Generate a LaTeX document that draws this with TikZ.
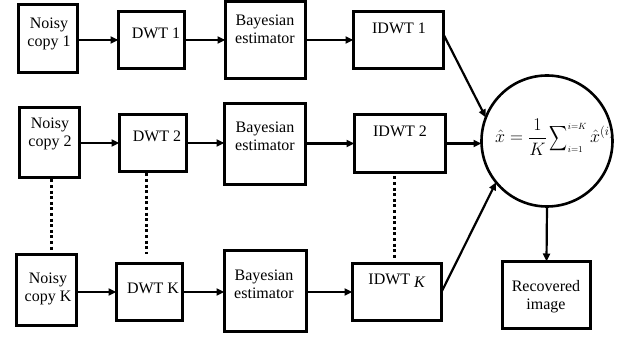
\RequirePackage{fix-cm}
\documentclass[tikz,border=0pt]{standalone}
\usepackage{amsmath}
\usepackage{fontspec}
\setmainfont{Liberation Serif}
\usetikzlibrary{arrows.meta,calc}
\newcommand\mybox[5]{\node[box,anchor=north west,minimum width={#4-#2-3},minimum height={#5-#3-3}] (#1) at (#2+1.5,#3+1.5) {};}
\newcommand\narrowsum{\mathop{\vcenter{\hbox{\scalebox{0.72}[1]{$\displaystyle\sum$}}}}}
\begin{document}
\begin{tikzpicture}[x=1pt,y=-1pt,
 box/.style={draw,line width=2.8pt,inner sep=0pt,outer sep=0pt},
 lbl/.style={align=center,font=\fontsize{16}{18}\selectfont,inner sep=0pt},
 arr/.style={line width=2.2pt,-{Triangle[length=8pt,width=7pt]}},
 dotl/.style={line width=3pt,dash pattern=on 3pt off 2.6pt}]
\useasboundingbox (0,0) rectangle (635,339);
% boxes
\mybox{n1}{17}{3}{79}{74}
\mybox{d1}{117}{10}{186}{70}
\mybox{b1}{224}{0}{307}{80}
\mybox{i1}{352}{10}{445}{70}
\mybox{n2}{18}{106}{81}{179}
\mybox{d2}{118}{113}{188}{173}
\mybox{b2}{223}{102}{307}{186}
\mybox{i2}{353}{113}{447}{174}
\mybox{nK}{15}{253}{78}{327}
\mybox{dK}{115}{262}{184}{322}
\mybox{bK}{223}{249}{308}{333}
\mybox{iK}{351}{262}{443}{322}
\mybox{r}{501}{260}{592}{330}
% formula, clipped by the circle as in the reference
\begin{scope}
\clip (547,141) circle (64pt);
\node[inner sep=0pt,anchor=west,font=\fontsize{18}{21}\selectfont] (f) at (495,137) {$\displaystyle \hat{x}=\frac{1}{K}\narrowsum\nolimits_{\scriptscriptstyle i=1}^{\scriptscriptstyle i=K}\hat{x}^{(i)}$};
\end{scope}
\node[circle,draw,line width=2.6pt,minimum size=131pt,inner sep=0pt,outer sep=0pt] (c) at (547,141) {};
% labels
\node[lbl] (tn1) at (49,34) {Noisy\\copy 1};
\node[lbl] (td1) at (156,33) {DWT 1};
\node[lbl] (tb1) at (265,29) {Bayesian\\estimator};
\node[lbl] (ti1) at (399,28) {IDWT 1};
\node[lbl] (tn2) at (50,134) {Noisy\\copy 2};
\node[lbl] (td2) at (157,136) {DWT 2};
\node[lbl] (tb2) at (265,136) {Bayesian\\estimator};
\node[lbl] (ti2) at (400,131) {IDWT 2};
\node[lbl] (tnK) at (48,289) {Noisy\\copy K};
\node[lbl] (tdK) at (153,288) {DWT K};
\node[lbl] (tbK) at (264,284) {Bayesian\\estimator};
\node[lbl] (tiK) at (397,281) {IDWT \raisebox{-3pt}{\textit{K}}};
\node[lbl] (tr) at (546,297) {Recovered\\image};
% arrows row 1
\draw[arr] (n1.east |- d1.west) -- (d1.west);
\draw[arr] (d1.east) -- (b1.west |- d1.east);
\draw[arr] (b1.east |- i1.west) -- (i1.west);
\draw[arr] ([yshift=-23pt]i1.north east) -- (c.159);
% row 2
\draw[arr] (n2.east |- d2.west) -- (d2.west);
\draw[arr] (d2.east) -- (b2.west |- d2.east);
\draw[arr] (b2.east |- i2.west) -- (i2.west);
\draw[arr] (i2.east) -- (c.west |- i2.east);
% row K
\draw[arr] (nK.east |- dK.west) -- (dK.west);
\draw[arr] (dK.east) -- (bK.west |- dK.east);
\draw[arr] (bK.east |- iK.west) -- (iK.west);
\draw[arr] (iK.east) -- (c.219);
\draw[arr] (c.south) -- (r.north);
% dotted
\draw[dotl,shorten <=2pt,shorten >=3pt] (n2.south -| 51,0) -- (nK.north -| 51,0);
\draw[dotl,shorten <=2pt,shorten >=9pt] (d2.south -| 146,0) -- (dK.north -| 146,0);
\draw[dotl,shorten <=4pt,shorten >=5pt] (i2.south -| 394,0) -- (iK.north -| 394,0);
\end{tikzpicture}
\end{document}
